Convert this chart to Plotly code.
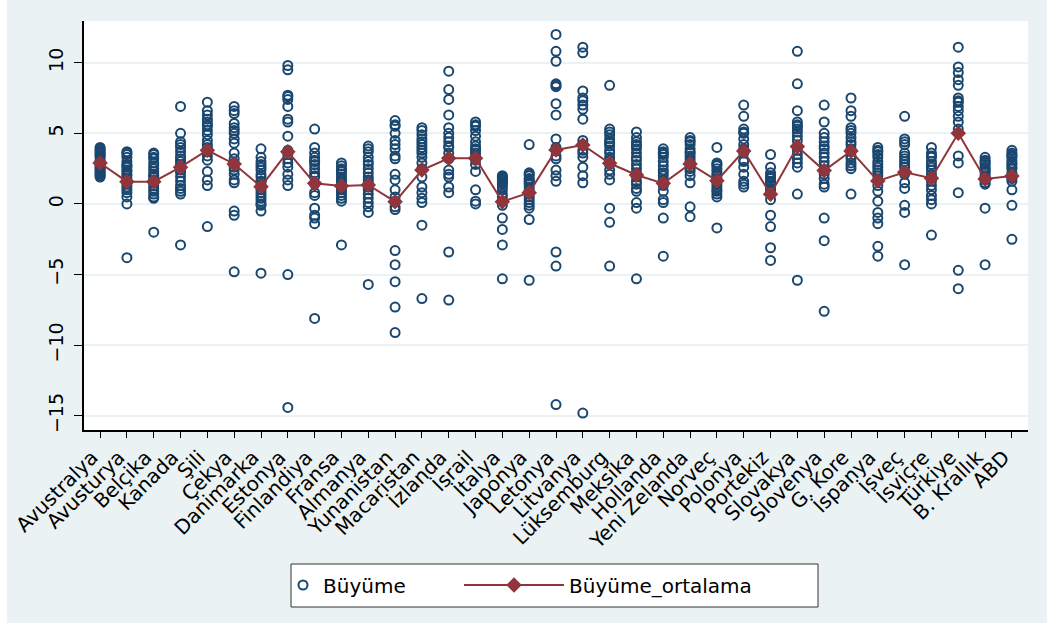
import plotly.graph_objects as go

# OECD countries (Turkish names) in plotting order
countries = [
    "Avustralya", "Avusturya", "Belçika", "Kanada", "Şili", "Çekya", "Danimarka",
    "Estonya", "Finlandiya", "Fransa", "Almanya", "Yunanistan", "Macaristan",
    "İzlanda", "İsrail", "İtalya", "Japonya", "Letonya", "Litvanya", "Lüksemburg",
    "Meksika", "Hollanda", "Yeni Zelanda", "Norveç", "Polonya", "Portekiz",
    "Slovakya", "Slovenya", "G. Kore", "İspanya", "İsveç", "İsviçre", "Türkiye",
    "B. Krallık", "ABD",
]

# Annual growth rates (%) per country
g_avustralya = [3.9, 3.8, 3.7, 3.5, 3.4, 3.3, 3.1, 3.0, 2.9, 2.8, 2.7, 2.6, 2.5, 2.4, 2.3, 2.2, 2.1, 2.0, 1.9, 3.6, 4.0]
g_avusturya = [3.7, 3.5, 3.3, 3.0, 2.8, 2.6, 2.4, 2.3, 2.1, 2.0, 1.8, 1.6, 1.4, 1.2, 1.0, 0.8, 0.5, 0.0, -3.8, 3.6, 2.7]
g_belcika = [3.6, 3.5, 3.2, 2.9, 2.7, 2.5, 2.3, 2.1, 1.9, 1.7, 1.5, 1.3, 1.1, 0.9, 0.7, 0.5, 0.4, -2.0, 3.3, 2.0]
g_kanada = [6.9, 5.0, 4.4, 4.2, 4.0, 3.7, 3.4, 3.2, 3.0, 2.8, 2.6, 2.2, 1.9, 1.6, 1.3, 1.1, 0.9, 0.7, -2.9, 2.4]
g_sili = [7.2, 6.3, 6.0, 5.8, 5.5, 5.2, 4.9, 4.5, 4.2, 4.0, 3.7, 3.4, 3.1, 2.3, 1.7, 1.3, -1.6, 6.6, 5.6]
g_cekya = [6.9, 6.6, 5.7, 5.4, 5.0, 4.6, 4.3, 3.6, 3.2, 2.9, 2.6, 2.4, 2.1, 1.7, 1.5, -0.5, -0.8, -4.8, 6.4, 5.2]
g_danimarka = [3.9, 3.3, 3.0, 2.8, 2.6, 2.4, 2.1, 1.9, 1.6, 1.4, 1.2, 1.0, 0.8, 0.6, 0.4, 0.2, -0.1, -0.5, -4.9, 0.0, 1.6]
g_estonya = [9.8, 9.5, 7.6, 7.4, 6.9, 6.0, 5.8, 4.8, 3.5, 3.2, 2.9, 2.6, 2.1, 1.7, 1.3, -5.0, -14.4, 7.7, 3.8]
g_finlandiya = [5.3, 4.0, 3.3, 3.0, 2.8, 2.5, 2.2, 1.9, 1.4, 0.8, 0.6, -0.3, -0.8, -1.0, -1.4, -8.1, 2.0, 3.1, 3.6]
g_fransa = [2.9, 2.7, 2.5, 2.3, 2.1, 1.9, 1.7, 1.5, 1.3, 1.1, 1.0, 0.8, 0.6, 0.4, 0.2, -2.9, 2.4, 1.6]
g_almanya = [4.1, 3.7, 3.3, 3.0, 2.8, 2.5, 2.2, 1.9, 1.7, 1.5, 1.2, 1.0, 0.7, 0.4, 0.1, -0.2, -0.6, -5.7, 3.9]
g_yunanistan = [5.9, 5.6, 5.5, 5.0, 4.2, 3.9, 3.4, 2.1, 1.7, 1.0, 0.5, 0.2, -0.2, -0.4, -3.3, -4.3, -5.5, -7.3, -9.1, 4.5, 3.2]
g_macaristan = [5.4, 5.2, 4.9, 4.6, 4.4, 4.2, 4.0, 3.8, 3.3, 2.9, 2.5, 1.9, 1.2, 0.8, 0.4, 0.1, -1.5, -6.7, 3.6]
g_izlanda = [9.4, 8.1, 7.4, 6.3, 5.4, 4.7, 4.4, 4.0, 3.6, 3.2, 2.4, 2.1, 1.9, 1.2, 0.8, -3.4, -6.8, 4.1, 5.0]
g_israil = [5.8, 5.6, 5.5, 4.8, 4.4, 4.1, 3.8, 3.6, 3.4, 3.1, 2.8, 2.3, 1.0, 0.2, 0.0, 5.2, 3.9]
g_italya = [2.0, 1.9, 1.8, 1.7, 1.6, 1.5, 1.4, 1.2, 1.0, 0.7, 0.5, 0.2, -0.1, -1.0, -1.8, -2.9, -5.3, 1.9]
g_japonya = [4.2, 2.2, 2.0, 1.8, 1.7, 1.5, 1.4, 1.2, 1.0, 0.7, 0.5, 0.3, 0.1, -0.1, -0.3, -1.1, -5.4, 2.1, 1.6]
g_letonya = [12.0, 10.8, 10.1, 8.5, 8.3, 7.1, 6.3, 4.6, 4.0, 3.4, 3.2, 2.4, 2.0, 1.6, -3.4, -4.4, -14.2, 8.4]
g_litvanya = [11.1, 10.7, 8.0, 7.5, 7.3, 7.0, 6.7, 6.0, 4.5, 4.2, 3.8, 3.6, 2.6, 2.0, 1.5, -14.8, 3.3]
g_luksemburg = [8.4, 5.3, 5.1, 4.9, 4.6, 4.3, 4.1, 3.8, 3.6, 3.3, 3.1, 2.8, 2.4, 2.1, 1.7, -0.3, -1.3, -4.4, 4.4]
g_meksika = [5.1, 4.7, 4.4, 4.1, 3.9, 3.6, 3.3, 3.1, 2.8, 2.5, 2.2, 1.9, 1.6, 1.4, 1.1, 0.9, 0.1, -0.3, -5.3, 4.2]
g_hollanda = [3.9, 3.7, 3.5, 3.3, 3.0, 2.7, 2.4, 2.2, 2.0, 1.7, 1.4, 1.3, 0.9, 0.3, 0.1, -1.0, -3.7, 3.6]
g_yeni_zelanda = [4.7, 4.5, 4.4, 4.2, 3.9, 3.6, 3.4, 3.2, 3.0, 2.8, 2.6, 2.3, 2.0, 1.5, -0.2, -0.9, 3.7, 2.5]
g_norvec = [4.0, 2.9, 2.7, 2.5, 2.3, 2.1, 2.0, 1.8, 1.6, 1.4, 1.2, 1.0, 0.9, 0.7, 0.5, -1.7, 2.8]
g_polonya = [7.0, 6.2, 5.3, 5.0, 4.6, 4.2, 3.9, 3.6, 3.1, 3.0, 2.6, 2.1, 1.6, 1.4, 1.2, 5.1, 3.8]
g_portekiz = [3.5, 2.6, 2.2, 2.0, 1.8, 1.6, 1.5, 1.3, 1.1, 0.9, 0.3, -0.8, -1.6, -3.1, -4.0, 1.9]
g_slovakya = [10.8, 8.5, 6.6, 5.8, 5.5, 5.3, 5.1, 4.8, 4.5, 4.1, 3.8, 3.5, 3.2, 2.9, 2.6, 0.7, -5.4, 5.6]
g_slovenya = [7.0, 5.8, 5.0, 4.7, 4.4, 4.1, 3.9, 3.6, 3.3, 3.0, 2.7, 2.4, 2.1, 1.8, 1.4, 1.2, -1.0, -2.6, -7.6]
g_kore = [7.5, 6.6, 5.4, 5.2, 5.0, 4.7, 4.4, 4.2, 3.9, 3.7, 3.4, 3.2, 2.9, 2.7, 2.5, 0.7, 6.2]
g_ispanya = [4.0, 3.8, 3.7, 3.5, 3.3, 3.0, 2.8, 2.6, 2.4, 2.2, 2.0, 1.7, 1.3, 0.9, 0.2, -0.6, -1.0, -1.4, -3.0, -3.7]
g_isvec = [6.2, 4.6, 4.4, 3.6, 3.4, 3.2, 3.0, 2.8, 2.6, 2.3, 2.1, 1.5, 1.1, -0.1, -0.6, -4.3, 4.2]
g_isvicre = [4.0, 3.6, 3.3, 3.0, 2.8, 2.6, 2.4, 2.1, 1.9, 1.6, 1.3, 1.0, 0.6, 0.3, 0.0, -2.2, 3.4]
g_turkiye = [11.1, 9.7, 9.3, 8.8, 8.4, 7.5, 7.2, 6.9, 6.6, 6.2, 5.8, 5.3, 3.4, 2.9, 0.8, -4.7, -6.0, 7.3]
g_b_krallik = [3.3, 3.1, 3.0, 2.9, 2.8, 2.6, 2.5, 2.3, 2.2, 2.0, 1.9, 1.7, 1.5, 1.4, -0.3, -4.3, 2.4]
g_abd = [3.8, 3.6, 3.4, 3.3, 3.1, 2.9, 2.8, 2.6, 2.5, 2.2, 1.9, 1.8, 1.6, 1.0, -0.1, -2.5, 3.5]

growth_by_country = [
    g_avustralya, g_avusturya, g_belcika, g_kanada, g_sili, g_cekya, g_danimarka,
    g_estonya, g_finlandiya, g_fransa, g_almanya, g_yunanistan, g_macaristan,
    g_izlanda, g_israil, g_italya, g_japonya, g_letonya, g_litvanya, g_luksemburg,
    g_meksika, g_hollanda, g_yeni_zelanda, g_norvec, g_polonya, g_portekiz,
    g_slovakya, g_slovenya, g_kore, g_ispanya, g_isvec, g_isvicre, g_turkiye,
    g_b_krallik, g_abd,
]

# Country averages (Büyüme_ortalama)
mean_growth = [
    2.90, 1.58, 1.58, 2.60, 3.80, 2.83, 1.22, 3.70, 1.46, 1.27, 1.34, 0.16, 2.40,
    3.23, 3.23, 0.16, 0.80, 3.82, 4.17, 2.88, 2.05, 1.46, 2.83, 1.65, 3.75, 0.69,
    4.06, 2.36, 3.75, 1.63, 2.24, 1.82, 5.00, 1.77, 1.98,
]

y_ticks = [-15, -10, -5, 0, 5, 10]

NAVY = "#1a476f"
MAROON = "#90353b"
PANEL = "#eaf2f3"

xs, ys = [], []
for name, vals in zip(countries, growth_by_country):
    xs.extend([name] * len(vals))
    ys.extend(vals)

fig = go.Figure()
fig.add_trace(go.Scatter(
    x=xs, y=ys, mode="markers", name="Büyüme", legend="legend",
    marker=dict(symbol="circle-open", size=9, color=NAVY, line=dict(width=2, color=NAVY)),
))
fig.add_trace(go.Scatter(
    x=countries, y=mean_growth, mode="lines+markers", name="Büyüme_ortalama",
    legend="legend2",
    line=dict(color=MAROON, width=2),
    marker=dict(symbol="diamond", size=12, color=MAROON),
))

# Figure geometry in pixels
W, H = 1047, 636
ML, MR, MT, MB = 84, 19, 21, 206
plot_w = W - ML - MR
plot_h = H - MT - MB


def px_x(px):
    return (px - ML) / plot_w


def px_y(py):
    return (H - MB - py) / plot_h


legend_font = dict(size=20, family="DejaVu Sans", color="black")

fig.update_layout(
    width=W, height=H,
    margin=dict(l=ML, r=MR, t=MT, b=MB),
    paper_bgcolor=PANEL, plot_bgcolor="white",
    font=dict(family="DejaVu Sans", color="black"),
    xaxis=dict(
        type="category", categoryorder="array", categoryarray=countries,
        range=[-0.6, 34.6], tickangle=-45, tickfont=dict(size=20),
        ticklabelshift=-8,
        ticks="outside", ticklen=6, tickcolor="black", tickwidth=1,
        showline=True, linecolor="black", linewidth=1.5, showgrid=False,
    ),
    yaxis=dict(
        range=[-16, 12.95], tickvals=y_ticks, tickangle=-90, tickfont=dict(size=19),
        ticklabelstandoff=4,
        ticks="outside", ticklen=8, tickcolor="black", tickwidth=1,
        showline=True, linecolor="black", linewidth=1.5,
        showgrid=True, gridcolor=PANEL, gridwidth=2, zeroline=False,
    ),
    legend=dict(
        orientation="h", x=px_x(283), xanchor="left", y=px_y(585), yanchor="middle",
        bgcolor="rgba(0,0,0,0)", borderwidth=0, font=legend_font, itemwidth=30,
    ),
    legend2=dict(
        orientation="h", x=px_x(459), xanchor="left", y=px_y(585), yanchor="middle",
        bgcolor="rgba(0,0,0,0)", borderwidth=0, font=legend_font, itemwidth=100,
    ),
    shapes=[
        # legend frame
        dict(type="rect", xref="paper", yref="paper", layer="below",
             x0=px_x(291), x1=px_x(818), y0=px_y(607), y1=px_y(564),
             fillcolor="white", line=dict(color="#333333", width=1)),
        # white page edges around the panel
        dict(type="rect", xref="paper", yref="paper", layer="below",
             x0=px_x(0), x1=px_x(7), y0=px_y(H), y1=px_y(0),
             fillcolor="white", line=dict(width=0)),
        dict(type="rect", xref="paper", yref="paper", layer="below",
             x0=px_x(0), x1=px_x(W), y0=px_y(H), y1=px_y(623),
             fillcolor="white", line=dict(width=0)),
    ],
    showlegend=True,
)

fig.write_html("out.html")
